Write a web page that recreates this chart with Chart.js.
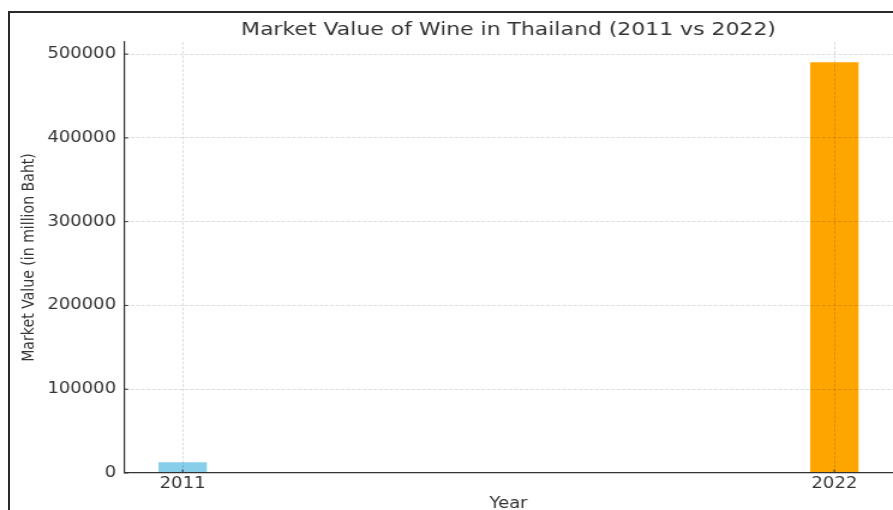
<!DOCTYPE html>
<html>
<head>
<meta charset="utf-8">
<title>Market Value of Wine in Thailand</title>
<script src="https://cdn.jsdelivr.net/npm/chart.js@4.4.1/dist/chart.umd.min.js"></script>
<style>
    html, body { margin: 0; padding: 0; background: #fff; overflow: hidden; }
    #frame {
        position: absolute; left: 8px; top: 11px; width: 883px; height: 497px;
        border-top: 2px solid #2a2a2a; border-left: 2px solid #2a2a2a;
    }
    #chart { position: absolute; left: 0; top: 0; }
</style>
</head>
<body>
<div id="frame"></div>
<!-- la imagen original está estirada a lo ancho: se dibuja más angosto y el CSS lo ensancha -->
<canvas id="chart" width="744" height="510" style="width:893px;height:510px;"></canvas>
<script>
// ── datos ──
const years = [2011, 2022];
const marketValues = [12300, 490000];
const barColors = ["#87CEEB", "#FFA500"];
const yTicks = [0, 100000, 200000, 300000, 400000, 500000];

const textColor = "#333";
const gridColor = "rgba(0, 0, 0, 0.18)";

// marcas de eje hacia adentro, como en matplotlib
const innerTicks = {
    id: "innerTicks",
    afterDraw(chart) {
        const { ctx, chartArea, scales: { x, y } } = chart;
        ctx.save();
        ctx.strokeStyle = textColor;
        ctx.lineWidth = 1;
        ctx.beginPath();
        x.ticks.forEach(t => {
            const px = x.getPixelForValue(t.value);
            ctx.moveTo(px, chartArea.bottom);
            ctx.lineTo(px, chartArea.bottom - 3.5);
        });
        y.ticks.forEach(t => {
            const py = y.getPixelForValue(t.value);
            ctx.moveTo(chartArea.left, py);
            ctx.lineTo(chartArea.left + 3.5, py);
        });
        ctx.stroke();
        ctx.restore();
    }
};

new Chart(document.getElementById("chart"), {
    type: "bar",
    data: {
        datasets: [{
            data: years.map((yr, i) => ({ x: yr, y: marketValues[i] })),
            backgroundColor: barColors,
            borderWidth: 0,
            barThickness: 39.6
        }]
    },
    options: {
        responsive: false,
        animation: false,
        layout: { padding: 0 },
        plugins: {
            legend: { display: false },
            tooltip: { enabled: false },
            title: {
                display: true,
                text: "Market Value of Wine in Thailand (2011 vs 2022)",
                color: textColor,
                fullSize: false,
                font: { family: "DejaVu Sans", size: 18.3, weight: "normal" },
                padding: { top: 19, bottom: 1 }
            }
        },
        scales: {
            x: {
                type: "linear",
                offset: false,
                min: 2010.01,
                max: 2022.99,
                afterBuildTicks: s => { s.ticks = years.map(v => ({ value: v })); },
                afterFit: s => { s.height = 37; },
                ticks: {
                    color: textColor,
                    padding: 2,
                    font: { family: "DejaVu Sans", size: 15 },
                    callback: v => String(v)
                },
                grid: { offset: false, color: gridColor, lineWidth: 0.8, drawTicks: false, z: 1 },
                border: { color: textColor, width: 1.2, dash: [3, 1.5], z: 2 },
                title: {
                    display: true,
                    text: "Year",
                    color: textColor,
                    font: { family: "DejaVu Sans", size: 15, lineHeight: 0.8 },
                    padding: 0
                }
            },
            y: {
                min: 0,
                max: 514500,
                afterBuildTicks: s => { s.ticks = yTicks.map(v => ({ value: v })); },
                afterFit: s => { s.width = 103.3; },
                ticks: {
                    color: textColor,
                    padding: 6.6,
                    font: { family: "DejaVu Sans", size: 15 },
                    callback: v => String(v)
                },
                grid: { color: gridColor, lineWidth: 0.8, drawTicks: false, z: 1 },
                border: { color: textColor, width: 1.2, dash: [3, 1.5], z: 2 },
                title: {
                    display: true,
                    text: "Market Value (in million Baht)",
                    color: textColor,
                    font: { family: "DejaVu Sans", size: 14.1 },
                    padding: { top: 16, bottom: 0 }
                }
            }
        }
    },
    plugins: [innerTicks]
});
</script>
</body>
</html>
